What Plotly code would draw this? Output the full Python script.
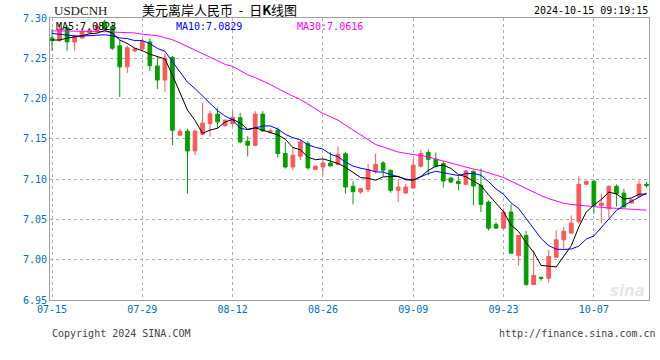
import pandas as pd
import plotly.graph_objects as go

# ---- data ----
dates = pd.bdate_range(start="2024-07-15", periods=80, freq="C",
                       weekmask="Mon Tue Wed Thu Fri Sat").strftime("%Y-%m-%d").tolist()

open_ = [7.2752, 7.2724, 7.2877, 7.2703, 7.2752, 7.2815, 7.2833, 7.2951, 7.2895, 7.2655,
         7.2394, 7.2591, 7.2615, 7.2703, 7.2404, 7.2230, 7.2512, 7.1545, 7.1595, 7.1350,
         7.1558, 7.1688, 7.1807, 7.1663, 7.1688, 7.1763, 7.1471, 7.1421, 7.1807, 7.1583,
         7.1608, 7.1318, 7.1151, 7.1284, 7.1442, 7.1122, 7.1151, 7.1201, 7.1181, 7.1315,
         7.0911, 7.0840, 7.0873, 7.1101, 7.1201, 7.1110, 7.0861, 7.0827, 7.0890, 7.1160,
         7.1330, 7.1247, 7.1193, 7.1014, 7.0973, 7.0936, 7.1097, 7.0923, 7.0715, 7.0438,
         7.0392, 7.0591, 7.0050, 7.0301, 6.9691, 6.9782, 6.9770, 7.0031, 7.0247, 7.0330,
         7.0475, 7.0936, 7.0973, 7.0674, 7.0633, 7.0911, 7.0827, 7.0703, 7.0786, 7.0936]
high = [7.2864, 7.2927, 7.2914, 7.2793, 7.2877, 7.2873, 7.2935, 7.2980, 7.2951, 7.2721,
        7.2659, 7.2634, 7.2740, 7.2746, 7.2528, 7.2562, 7.2528, 7.1626, 7.1626, 7.1620,
        7.1947, 7.1850, 7.1888, 7.1744, 7.1850, 7.1823, 7.1533, 7.1844, 7.1844, 7.1629,
        7.1641, 7.1462, 7.1400, 7.1492, 7.1471, 7.1172, 7.1255, 7.1337, 7.1408, 7.1337,
        7.0973, 7.0886, 7.1193, 7.1318, 7.1226, 7.1118, 7.0994, 7.0944, 7.1255, 7.1359,
        7.1367, 7.1330, 7.1222, 7.1023, 7.1035, 7.1118, 7.1110, 7.1131, 7.0736, 7.0467,
        7.0633, 7.0687, 7.0301, 7.0354, 7.0114, 6.9782, 7.0123, 7.0363, 7.0404, 7.0550,
        7.1035, 7.0973, 7.0994, 7.0820, 7.0923, 7.0936, 7.0882, 7.0758, 7.0985, 7.0964]
low = [7.2594, 7.2703, 7.2594, 7.2594, 7.2744, 7.2802, 7.2811, 7.2850, 7.2603, 7.2018,
       7.2319, 7.2578, 7.2591, 7.2342, 7.2118, 7.2084, 7.1421, 7.1545, 7.0820, 7.1296,
       7.1545, 7.1527, 7.1629, 7.1651, 7.1651, 7.1442, 7.1283, 7.1408, 7.1586, 7.1566,
       7.1268, 7.1131, 7.1110, 7.1234, 7.1122, 7.1110, 7.1047, 7.1163, 7.1181, 7.0820,
       7.0687, 7.0817, 7.0840, 7.1069, 7.1035, 7.0832, 7.0715, 7.0827, 7.0882, 7.1143,
       7.1047, 7.1143, 7.0895, 7.0952, 7.0861, 7.0923, 7.0674, 7.0591, 7.0363, 7.0392,
       7.0372, 7.0081, 6.9928, 6.9679, 6.9691, 6.9741, 6.9720, 7.0031, 7.0135, 7.0330,
       7.0446, 7.0936, 7.0571, 7.0454, 7.0521, 7.0662, 7.0653, 7.0703, 7.0786, 7.0895]
close = [7.2719, 7.2864, 7.2703, 7.2774, 7.2836, 7.2848, 7.2902, 7.2864, 7.2625, 7.2394,
         7.2630, 7.2615, 7.2709, 7.2408, 7.2230, 7.2500, 7.1607, 7.1595, 7.1349, 7.1595,
         7.1695, 7.1810, 7.1711, 7.1732, 7.1766, 7.1462, 7.1421, 7.1807, 7.1599, 7.1599,
         7.1318, 7.1151, 7.1296, 7.1462, 7.1139, 7.1159, 7.1201, 7.1163, 7.1309, 7.0902,
         7.0845, 7.0882, 7.1118, 7.1184, 7.1110, 7.0861, 7.0902, 7.0902, 7.1172, 7.1318,
         7.1247, 7.1160, 7.0977, 7.0964, 7.0944, 7.1101, 7.0915, 7.0687, 7.0392, 7.0392,
         7.0591, 7.0081, 7.0301, 6.9691, 6.9803, 6.9771, 7.0040, 7.0247, 7.0354, 7.0454,
         7.0936, 7.0973, 7.0674, 7.0703, 7.0911, 7.0820, 7.0653, 7.0745, 7.0936, 7.0920]

# moving-average values at the left edge (need history before the window)
ma5_head = [7.2727, 7.2727, 7.2750, 7.2760]
ma10_head = [7.2808, 7.2795, 7.2786, 7.2778, 7.2776, 7.2780, 7.2786, 7.2792, 7.2780]
ma30 = [7.2840, 7.2840, 7.2840, 7.2838, 7.2836, 7.2835, 7.2833, 7.2830, 7.2828, 7.2825,
        7.2820, 7.2814, 7.2800, 7.2790, 7.2781, 7.2755, 7.2730, 7.2690, 7.2645, 7.2600,
        7.2555, 7.2510, 7.2465, 7.2425, 7.2400, 7.2350, 7.2295, 7.2260, 7.2220, 7.2175,
        7.2125, 7.2075, 7.2030, 7.1990, 7.1935, 7.1880, 7.1815, 7.1775, 7.1732, 7.1670,
        7.1608, 7.1550, 7.1492, 7.1430, 7.1400, 7.1370, 7.1337, 7.1320, 7.1309, 7.1292,
        7.1278, 7.1250, 7.1225, 7.1200, 7.1170, 7.1145, 7.1125, 7.1108, 7.1080, 7.1050,
        7.1020, 7.0975, 7.0930, 7.0880, 7.0840, 7.0795, 7.0758, 7.0730, 7.0700, 7.0685,
        7.0675, 7.0665, 7.0655, 7.0648, 7.0642, 7.0638, 7.0630, 7.0625, 7.0620, 7.0616]

ma_labels = ["MA5:7.0823", "MA10:7.0829", "MA30:7.0616"]
y_ticks = [7.30, 7.25, 7.20, 7.15, 7.10, 7.05, 7.00, 6.95]
x_tick_dates = ["2024-07-15", "2024-07-29", "2024-08-12", "2024-08-26",
                "2024-09-09", "2024-09-23", "2024-10-07"]
x_tick_labels = ["07-15", "07-29", "08-12", "08-26", "09-09", "09-23", "10-07"]

s = pd.Series(close)
ma5 = s.rolling(5).mean().tolist()
ma10 = s.rolling(10).mean().tolist()
ma5[:len(ma5_head)] = ma5_head
ma10[:len(ma10_head)] = ma10_head

RED = "#ff5757"
GREEN = "#00a000"
MONO = "DejaVu Sans Mono"

fig = go.Figure()
fig.add_trace(go.Candlestick(
    x=dates, open=open_, high=high, low=low, close=close,
    increasing=dict(line=dict(color=RED, width=1), fillcolor=RED),
    decreasing=dict(line=dict(color=GREEN, width=1), fillcolor=GREEN),
    whiskerwidth=0, showlegend=False, hoverinfo="skip"))
fig.add_trace(go.Scatter(x=dates, y=ma30, mode="lines", line=dict(color="#ff00ff", width=1),
                         showlegend=False, hoverinfo="skip"))
fig.add_trace(go.Scatter(x=dates, y=ma10, mode="lines", line=dict(color="#0000ff", width=1),
                         showlegend=False, hoverinfo="skip"))
fig.add_trace(go.Scatter(x=dates, y=ma5, mode="lines", line=dict(color="#000000", width=1),
                         showlegend=False, hoverinfo="skip"))

W, H = 660, 360
L, R, T, B = 50, 11, 18, 60
pw, ph = W - L - R, H - T - B

def px(x):
    return (x - L) / pw

def py(y):
    return (H - B - y) / ph

fig.update_layout(
    width=W, height=H, margin=dict(l=L, r=R, t=T, b=B),
    paper_bgcolor="white", plot_bgcolor="white",
    xaxis=dict(type="category", range=[-0.27, 79.33], rangeslider=dict(visible=False),
               tickmode="array", tickvals=x_tick_dates, ticktext=x_tick_labels,
               tickfont=dict(family=MONO, size=10, color="#0070c0"),
               showgrid=True, gridcolor="#b0b0b0", griddash="dot", gridwidth=1,
               showline=True, linecolor="#a0a0a0", linewidth=1, mirror=True,
               ticks="", zeroline=False, fixedrange=True),
    yaxis=dict(range=[6.95, 7.30], tickmode="array", tickvals=y_ticks,
               ticktext=[f"{v:.2f}" for v in y_ticks],
               tickfont=dict(family=MONO, size=10, color="#0070c0"),
               showgrid=True, gridcolor="#b0b0b0", griddash="dot", gridwidth=1,
               showline=True, linecolor="#a0a0a0", linewidth=1, mirror=True,
               ticks="", zeroline=False, fixedrange=True),
    hovermode=False,
)

ann = []
ann.append(dict(text="USDCNH", x=px(52), y=py(11), xanchor="left", yanchor="middle",
                font=dict(family="Liberation Serif", size=13, color="#222222")))
ann.append(dict(text="美元离岸人民币&nbsp;&nbsp;-&nbsp;&nbsp;日<b>K</b>线图", x=px(140), y=py(10),
                xanchor="left", yanchor="middle",
                font=dict(family="Noto Sans CJK SC", size=13, color="#000000")))
ann.append(dict(text="2024-10-15 09:19:15", x=px(650), y=py(11), xanchor="right",
                yanchor="middle", font=dict(family=MONO, size=10, color="#000000")))
for txt, xx, col in zip(ma_labels, [54, 174, 295], ["#000000", "#0000ff", "#ff00ff"]):
    ann.append(dict(text=txt, x=px(xx), y=py(26), xanchor="left", yanchor="middle",
                    font=dict(family=MONO, size=10, color=col)))
ann.append(dict(text="Copyright 2024 SINA.COM", x=px(50), y=py(333), xanchor="left",
                yanchor="middle", font=dict(family=MONO, size=10, color="#444444")))
ann.append(dict(text="http://finance.sina.com.cn", x=px(658), y=py(333), xanchor="right",
                yanchor="middle", font=dict(family=MONO, size=10, color="#444444")))
ann.append(dict(text="<b><i>sina</i></b>", x=px(647), y=py(291), xanchor="right",
                yanchor="middle", font=dict(family="DejaVu Sans", size=15, color="#e6e6e6")))
for a in ann:
    a.update(xref="paper", yref="paper", showarrow=False)
fig.update_layout(annotations=ann)

fig.write_html("out.html")
